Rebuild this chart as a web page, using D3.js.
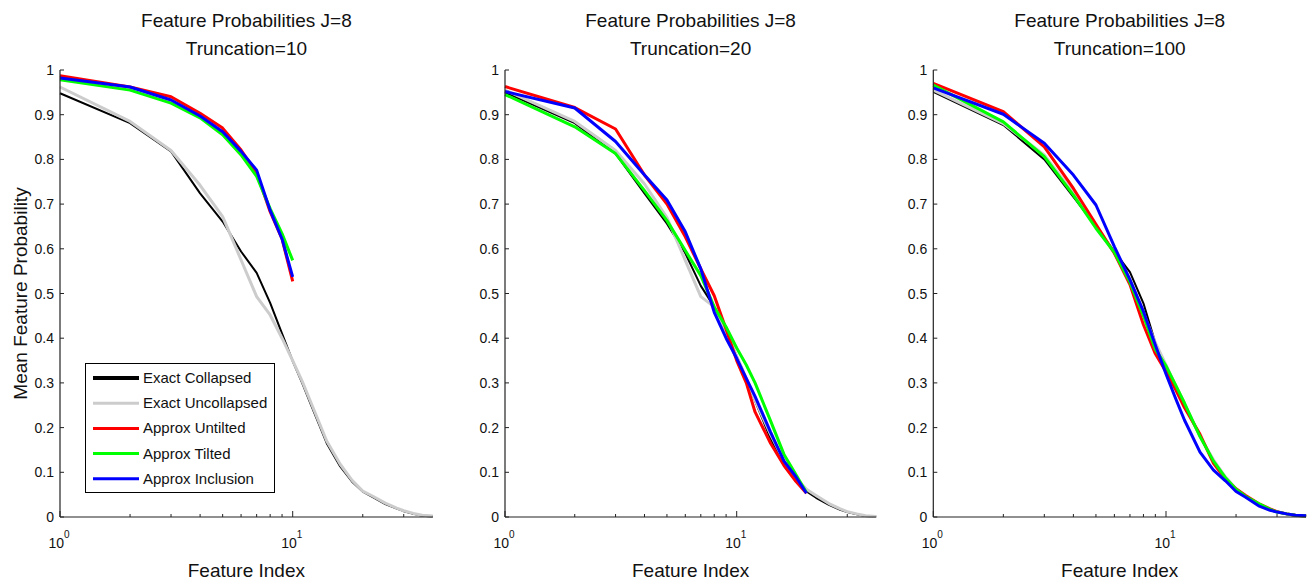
<!DOCTYPE html>
<html>
<head>
<meta charset="utf-8">
<script src="https://cdn.jsdelivr.net/npm/d3@7"></script>
<style>
  html, body { margin: 0; padding: 0; background: #fff; }
  svg { display: block; }
  text { font-family: "Liberation Sans", Arial, Helvetica, sans-serif; fill: #111; }
</style>
</head>
<body>
<svg id="chart" width="1315" height="582"></svg>
<script>
// ---------- data ----------
const seriesNames = ["Exact Collapsed", "Exact Uncollapsed", "Approx Untilted", "Approx Tilted", "Approx Inclusion"];
const seriesColors = ["#000000", "#cccccc", "#ff0000", "#00ff00", "#0000ff"];
const truncations = [10, 20, 100];
const yTicks = [0, 0.1, 0.2, 0.3, 0.4, 0.5, 0.6, 0.7, 0.8, 0.9, 1];
const yTickLabels = ["0", "0.1", "0.2", "0.3", "0.4", "0.5", "0.6", "0.7", "0.8", "0.9", "1"];
const xMajorTicks = [1, 10];
const xMajorExponents = ["0", "1"];
const xMinorTicks = [2, 3, 4, 5, 6, 7, 8, 9, 20, 30];

const featureIndex = [1, 2, 3, 4, 5, 6, 7, 8, 9, 10, 11, 12, 14, 16, 18, 20, 22, 25, 28, 30, 33, 36, 40];
const approxIndex10 = [1, 2, 3, 4, 5, 6, 7, 8, 9, 10];
const approxIndex20 = [1, 2, 3, 4, 5, 6, 7, 8, 9, 10, 11, 12, 14, 16, 18, 20];
const approxIndex100 = featureIndex;

// Truncation = 10
const exactCollapsed10   = [0.948, 0.881, 0.818, 0.724, 0.661, 0.594, 0.546, 0.479, 0.41, 0.349, 0.299, 0.25, 0.165, 0.113, 0.079, 0.057, 0.045, 0.029, 0.019, 0.013, 0.007, 0.003, 0.001];
const exactUncollapsed10 = [0.962, 0.885, 0.82, 0.742, 0.672, 0.575, 0.493, 0.452, 0.40, 0.35, 0.303, 0.255, 0.17, 0.118, 0.082, 0.058, 0.047, 0.031, 0.02, 0.014, 0.008, 0.004, 0.002];
const approxUntilted10   = [0.987, 0.962, 0.94, 0.903, 0.87, 0.821, 0.77, 0.683, 0.622, 0.527];
const approxTilted10     = [0.978, 0.955, 0.926, 0.893, 0.855, 0.81, 0.762, 0.69, 0.634, 0.574];
const approxInclusion10  = [0.982, 0.962, 0.933, 0.897, 0.862, 0.818, 0.776, 0.686, 0.622, 0.537];

// Truncation = 20
const exactCollapsed20   = [0.95, 0.881, 0.813, 0.724, 0.656, 0.59, 0.517, 0.47, 0.415, 0.36, 0.31, 0.26, 0.175, 0.115, 0.08, 0.057, 0.043, 0.027, 0.016, 0.011, 0.006, 0.002, 0.001];
const exactUncollapsed20 = [0.955, 0.885, 0.82, 0.745, 0.67, 0.574, 0.493, 0.47, 0.415, 0.36, 0.31, 0.262, 0.185, 0.125, 0.088, 0.062, 0.048, 0.03, 0.018, 0.012, 0.007, 0.003, 0.001];
const approxUntilted20   = [0.963, 0.916, 0.868, 0.765, 0.70, 0.627, 0.555, 0.495, 0.42, 0.35, 0.3, 0.235, 0.165, 0.115, 0.08, 0.053];
const approxTilted20     = [0.945, 0.873, 0.813, 0.73, 0.663, 0.596, 0.54, 0.47, 0.425, 0.378, 0.34, 0.3, 0.215, 0.14, 0.095, 0.055];
const approxInclusion20  = [0.952, 0.915, 0.84, 0.765, 0.709, 0.638, 0.555, 0.458, 0.40, 0.355, 0.31, 0.27, 0.19, 0.125, 0.09, 0.053];

// Truncation = 100
const exactCollapsed100   = [0.951, 0.877, 0.80, 0.716, 0.65, 0.594, 0.548, 0.478, 0.39, 0.335, 0.29, 0.25, 0.18, 0.125, 0.09, 0.062, 0.045, 0.027, 0.016, 0.011, 0.006, 0.003, 0.001];
const exactUncollapsed100 = [0.955, 0.88, 0.81, 0.725, 0.65, 0.59, 0.53, 0.455, 0.39, 0.34, 0.295, 0.255, 0.18, 0.128, 0.09, 0.063, 0.046, 0.028, 0.017, 0.012, 0.007, 0.003, 0.001];
const approxUntilted100   = [0.970, 0.907, 0.828, 0.735, 0.655, 0.59, 0.52, 0.43, 0.365, 0.325, 0.285, 0.245, 0.185, 0.12, 0.085, 0.063, 0.048, 0.03, 0.018, 0.012, 0.007, 0.004, 0.002];
const approxTilted100     = [0.966, 0.884, 0.806, 0.72, 0.646, 0.592, 0.525, 0.45, 0.375, 0.338, 0.295, 0.255, 0.18, 0.125, 0.088, 0.062, 0.046, 0.03, 0.017, 0.011, 0.007, 0.004, 0.002];
const approxInclusion100  = [0.960, 0.901, 0.836, 0.765, 0.698, 0.605, 0.531, 0.46, 0.385, 0.32, 0.265, 0.217, 0.145, 0.105, 0.081, 0.057, 0.044, 0.025, 0.015, 0.011, 0.007, 0.004, 0.003];

// ---------- build per-panel tables ----------
const panels = [
  { trunc: truncations[0], series: [
      [featureIndex, exactCollapsed10], [featureIndex, exactUncollapsed10],
      [approxIndex10, approxUntilted10], [approxIndex10, approxTilted10], [approxIndex10, approxInclusion10]] },
  { trunc: truncations[1], series: [
      [featureIndex, exactCollapsed20], [featureIndex, exactUncollapsed20],
      [approxIndex20, approxUntilted20], [approxIndex20, approxTilted20], [approxIndex20, approxInclusion20]] },
  { trunc: truncations[2], series: [
      [featureIndex, exactCollapsed100], [featureIndex, exactUncollapsed100],
      [approxIndex100, approxUntilted100], [approxIndex100, approxTilted100], [approxIndex100, approxInclusion100]] }
];

// ---------- layout ----------
const svg = d3.select("#chart");
const axesLeft = [60, 505, 933.3];
const axesWidth = [372.8, 371.2, 372.8];
const yTop = 70, yBottom = 517;
const lineWidths = [2, 3, 3, 3, 3];

const y = d3.scaleLinear().domain([0, 1]).range([yBottom, yTop]);

panels.forEach((p, pi) => {
  const x0 = axesLeft[pi];
  const x = d3.scaleLog().domain([1, 40]).range([x0, x0 + axesWidth[pi]]);
  const g = svg.append("g");

  // series lines
  const line = d3.line().x(d => x(d[0])).y(d => y(d[1]));
  p.series.forEach((s, si) => {
    const pts = s[0].map((k, i) => [k, s[1][i]]);
    g.append("path")
      .attr("d", line(pts))
      .attr("fill", "none")
      .attr("stroke", seriesColors[si])
      .attr("stroke-width", lineWidths[si])
      .attr("stroke-linejoin", "round");
  });

  // axes lines
  g.append("line").attr("x1", x0).attr("x2", x0).attr("y1", yTop).attr("y2", yBottom)
    .attr("stroke", "#222").attr("stroke-width", 1.2);
  g.append("line").attr("x1", x0).attr("x2", x0 + axesWidth[pi]).attr("y1", yBottom).attr("y2", yBottom)
    .attr("stroke", "#222").attr("stroke-width", 1.2);

  // y ticks (inward) and labels
  yTicks.forEach((t, i) => {
    g.append("line").attr("x1", x0).attr("x2", x0 + 4).attr("y1", y(t)).attr("y2", y(t))
      .attr("stroke", "#222").attr("stroke-width", 1);
    g.append("text").attr("x", x0 - 6).attr("y", y(t) + 5)
      .attr("text-anchor", "end").attr("font-size", 14).text(yTickLabels[i]);
  });

  // x ticks
  xMajorTicks.forEach((t, i) => {
    g.append("line").attr("x1", x(t)).attr("x2", x(t)).attr("y1", yBottom).attr("y2", yBottom - 6)
      .attr("stroke", "#222").attr("stroke-width", 1);
    const tx = g.append("text").attr("x", x(t) - 1).attr("y", 548)
      .attr("text-anchor", "middle").attr("font-size", 14);
    tx.append("tspan").text("10");
    tx.append("tspan").attr("dy", -10).attr("font-size", 10).text(xMajorExponents[i]);
  });
  xMinorTicks.forEach(t => {
    g.append("line").attr("x1", x(t)).attr("x2", x(t)).attr("y1", yBottom).attr("y2", yBottom - 3)
      .attr("stroke", "#222").attr("stroke-width", 1);
  });

  // titles
  const cx = x0 + axesWidth[pi] / 2;
  g.append("text").attr("x", cx).attr("y", 27).attr("text-anchor", "middle")
    .attr("font-size", 19).text("Feature Probabilities J=8");
  g.append("text").attr("x", cx).attr("y", 55).attr("text-anchor", "middle")
    .attr("font-size", 19).text("Truncation=" + p.trunc);
  g.append("text").attr("x", cx).attr("y", 577).attr("text-anchor", "middle")
    .attr("font-size", 19).text("Feature Index");
});

// y label
svg.append("text")
  .attr("transform", "translate(27," + ((yTop + yBottom) / 2) + ") rotate(-90)")
  .attr("text-anchor", "middle").attr("font-size", 19)
  .text("Mean Feature Probability");

// legend
const lg = svg.append("g");
lg.append("rect").attr("x", 85.5).attr("y", 363.5).attr("width", 189).attr("height", 129)
  .attr("fill", "#fff").attr("stroke", "#000").attr("stroke-width", 1);
seriesNames.forEach((name, i) => {
  const ly = 378 + i * 25.2;
  lg.append("line").attr("x1", 93).attr("x2", 139).attr("y1", ly).attr("y2", ly)
    .attr("stroke", seriesColors[i]).attr("stroke-width", i === 0 ? 4 : 3);
  lg.append("text").attr("x", 143).attr("y", ly + 5).attr("font-size", 15).text(name);
});
</script>
</body>
</html>
